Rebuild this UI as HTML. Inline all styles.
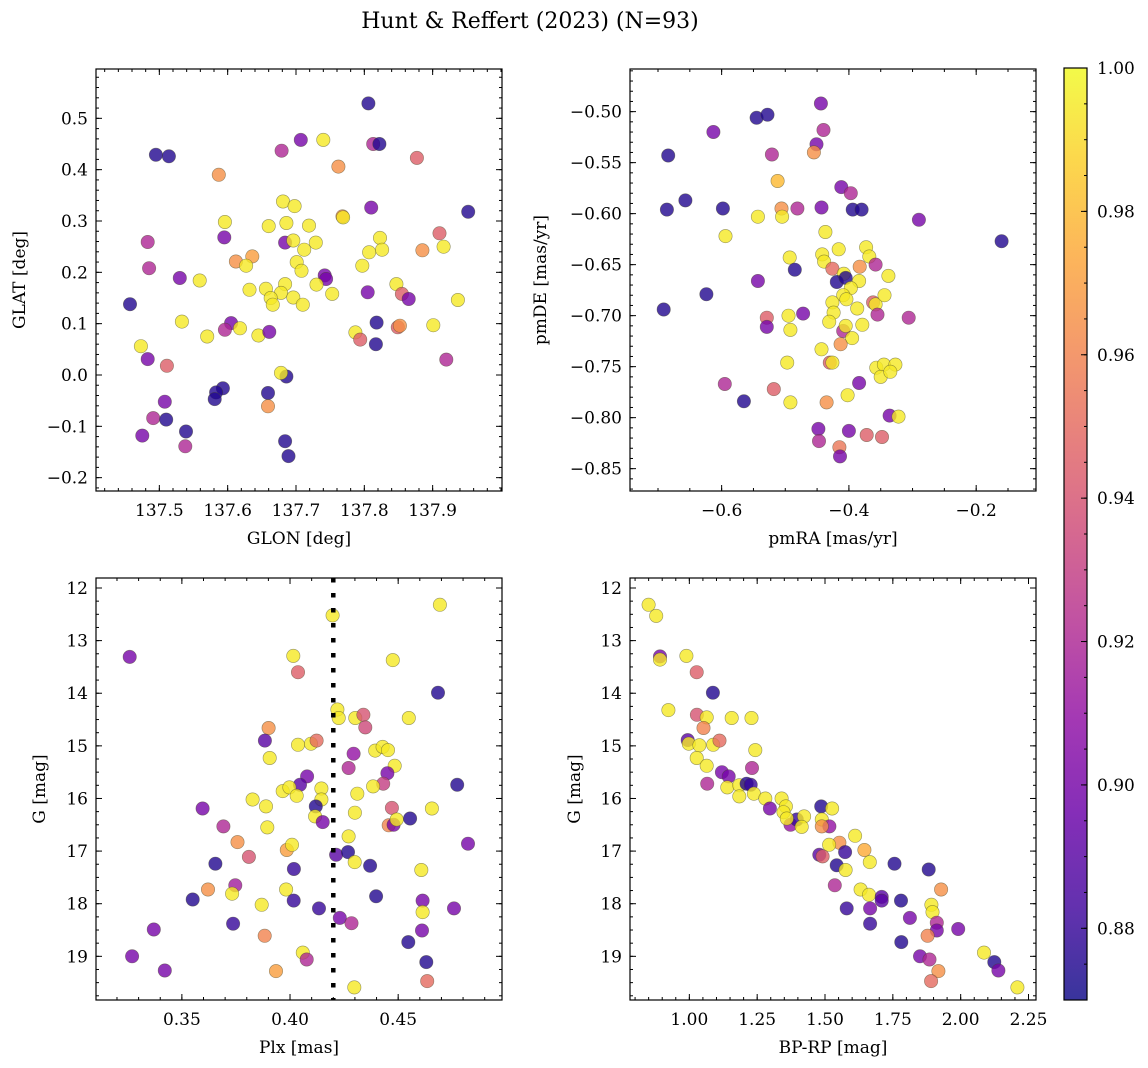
<!DOCTYPE html>
<html><head><meta charset="utf-8"><style>
html,body{margin:0;padding:0;background:#fff;}
svg{display:block;font-family:"DejaVu Serif","Liberation Serif",serif;}
</style></head><body>
<svg id="fig" width="1148" height="1068" viewBox="0 0 1148 1068" xmlns="http://www.w3.org/2000/svg">
<text x="530" y="28" font-size="22" text-anchor="middle">Hunt &amp; Reffert (2023) (N=93)</text>
</svg>
<script>
// ---- Panel 1: GLON / GLAT ----
const p1Glon=[137.806,137.495,137.514,137.707,137.740,137.679,137.813,137.822,137.587,137.762,137.877,137.681,137.698,137.768,137.769,137.810,137.952,137.596,137.660,137.686,137.719,137.595,137.483,137.684,137.696,137.729,137.712,137.823,137.826,137.807,137.910,137.916,137.885,137.612,137.636,137.627,137.701,137.708,137.797,137.485,137.530,137.559,137.742,137.744,137.684,137.730,137.632,137.656,137.678,137.663,137.666,137.696,137.710,137.753,137.805,137.847,137.855,137.865,137.937,137.457,137.533,137.605,137.596,137.618,137.570,137.645,137.661,137.818,137.787,137.794,137.849,137.852,137.901,137.817,137.473,137.483,137.511,137.920,137.686,137.678,137.593,137.583,137.581,137.659,137.659,137.508,137.491,137.510,137.475,137.539,137.538,137.684,137.689];
const p1Glat=[0.529,0.429,0.426,0.458,0.458,0.437,0.450,0.450,0.390,0.406,0.423,0.338,0.329,0.309,0.307,0.326,0.318,0.298,0.290,0.296,0.291,0.268,0.259,0.258,0.262,0.258,0.244,0.267,0.244,0.239,0.276,0.250,0.243,0.221,0.231,0.213,0.220,0.203,0.213,0.208,0.189,0.184,0.194,0.187,0.177,0.176,0.166,0.168,0.160,0.150,0.137,0.151,0.137,0.158,0.161,0.177,0.158,0.148,0.146,0.138,0.104,0.101,0.088,0.091,0.075,0.077,0.084,0.102,0.083,0.069,0.093,0.096,0.097,0.060,0.056,0.031,0.018,0.030,-0.003,0.004,-0.026,-0.034,-0.047,-0.035,-0.061,-0.052,-0.084,-0.087,-0.118,-0.110,-0.139,-0.129,-0.158];
const p1Prob=[0.875,0.875,0.875,0.90,0.995,0.92,0.92,0.875,0.965,0.965,0.945,0.995,0.995,0.965,0.995,0.90,0.875,0.995,0.995,0.995,0.995,0.90,0.92,0.90,0.995,0.995,0.995,0.995,0.995,0.995,0.945,0.995,0.965,0.965,0.97,0.995,0.995,0.995,0.995,0.92,0.90,0.995,0.90,0.90,0.995,0.995,0.995,0.995,0.995,0.995,0.995,0.995,0.995,0.995,0.90,0.995,0.945,0.90,0.995,0.875,0.995,0.90,0.92,0.995,0.995,0.995,0.90,0.875,0.995,0.945,0.945,0.965,0.995,0.875,0.995,0.90,0.945,0.92,0.875,0.995,0.875,0.875,0.875,0.875,0.965,0.90,0.92,0.875,0.90,0.875,0.92,0.875,0.875];
// ---- Panel 2: pmRA / pmDE ----
const p2Pmra=[-0.444,-0.545,-0.528,-0.613,-0.440,-0.451,-0.455,-0.684,-0.521,-0.512,-0.412,-0.397,-0.657,-0.686,-0.598,-0.506,-0.481,-0.443,-0.394,-0.380,-0.543,-0.505,-0.290,-0.594,-0.160,-0.437,-0.493,-0.442,-0.439,-0.416,-0.373,-0.368,-0.358,-0.485,-0.426,-0.383,-0.408,-0.419,-0.405,-0.384,-0.338,-0.397,-0.409,-0.404,-0.543,-0.624,-0.691,-0.426,-0.387,-0.362,-0.358,-0.344,-0.424,-0.355,-0.306,-0.472,-0.495,-0.529,-0.529,-0.492,-0.431,-0.409,-0.405,-0.379,-0.395,-0.413,-0.443,-0.430,-0.426,-0.497,-0.357,-0.345,-0.327,-0.350,-0.335,-0.384,-0.595,-0.518,-0.565,-0.492,-0.435,-0.402,-0.336,-0.322,-0.448,-0.400,-0.447,-0.372,-0.348,-0.415,-0.414];
const p2Pmde=[-0.492,-0.506,-0.503,-0.520,-0.518,-0.532,-0.540,-0.543,-0.542,-0.568,-0.574,-0.580,-0.587,-0.596,-0.595,-0.595,-0.595,-0.594,-0.596,-0.596,-0.603,-0.603,-0.606,-0.622,-0.627,-0.618,-0.643,-0.640,-0.647,-0.635,-0.633,-0.642,-0.650,-0.655,-0.654,-0.652,-0.659,-0.667,-0.663,-0.666,-0.661,-0.673,-0.680,-0.684,-0.666,-0.679,-0.694,-0.687,-0.693,-0.687,-0.689,-0.680,-0.697,-0.699,-0.702,-0.698,-0.700,-0.702,-0.711,-0.714,-0.706,-0.715,-0.710,-0.709,-0.722,-0.728,-0.733,-0.746,-0.746,-0.746,-0.751,-0.748,-0.748,-0.760,-0.755,-0.766,-0.767,-0.772,-0.784,-0.785,-0.785,-0.778,-0.798,-0.799,-0.811,-0.813,-0.823,-0.817,-0.819,-0.829,-0.838];
const p2Prob=[0.90,0.875,0.875,0.90,0.92,0.90,0.965,0.875,0.92,0.98,0.90,0.92,0.875,0.875,0.875,0.965,0.92,0.90,0.875,0.875,0.995,0.995,0.90,0.995,0.875,0.995,0.995,0.995,0.995,0.995,0.995,0.995,0.92,0.875,0.95,0.965,0.995,0.875,0.875,0.995,0.995,0.995,0.995,0.995,0.90,0.875,0.875,0.995,0.995,0.945,0.995,0.995,0.995,0.92,0.92,0.90,0.995,0.945,0.90,0.995,0.995,0.92,0.995,0.995,0.995,0.965,0.995,0.945,0.995,0.995,0.995,0.995,0.995,0.995,0.995,0.90,0.92,0.945,0.875,0.995,0.965,0.995,0.90,0.995,0.90,0.90,0.92,0.945,0.945,0.955,0.90];
// ---- Panel 3: Plx / G ----
const p3Plx=[0.4693,0.4197,0.3259,0.4015,0.4037,0.4475,0.4684,0.4219,0.4225,0.4302,0.4339,0.4348,0.4549,0.3901,0.3884,0.3906,0.4037,0.4097,0.4123,0.4294,0.4394,0.4428,0.4453,0.4271,0.4484,0.4450,0.4431,0.4384,0.4773,0.4079,0.4046,0.3966,0.3997,0.4031,0.4145,0.4145,0.4119,0.4116,0.4151,0.4311,0.4300,0.3827,0.3889,0.3596,0.3895,0.3692,0.4471,0.4456,0.4479,0.4493,0.4555,0.4656,0.4823,0.3757,0.3810,0.3985,0.4009,0.4271,0.4213,0.4268,0.4299,0.4370,0.3655,0.4018,0.4607,0.3747,0.3732,0.3621,0.3550,0.3869,0.3982,0.4017,0.4134,0.4398,0.4613,0.4613,0.4758,0.4230,0.4284,0.3737,0.3370,0.4610,0.3883,0.4547,0.3270,0.3421,0.4059,0.4077,0.4630,0.3935,0.4634,0.4297];
const p3G=[12.32,12.52,13.31,13.29,13.60,13.37,13.99,14.31,14.47,14.47,14.41,14.65,14.47,14.66,14.90,15.23,14.98,14.96,14.90,15.15,15.09,15.02,15.08,15.42,15.38,15.52,15.72,15.77,15.74,15.58,15.74,15.86,15.79,15.95,15.81,16.02,16.15,16.34,16.45,15.91,16.27,16.02,16.15,16.19,16.55,16.53,16.18,16.51,16.50,16.40,16.38,16.19,16.86,16.83,17.11,16.98,16.88,16.72,17.07,17.02,17.21,17.28,17.24,17.34,17.36,17.65,17.81,17.73,17.92,18.02,17.73,17.94,18.09,17.86,17.94,18.16,18.09,18.27,18.37,18.38,18.49,18.51,18.61,18.73,19.00,19.27,18.93,19.06,19.11,19.28,19.47,19.59];
const p3Prob=[0.995,0.995,0.90,0.995,0.945,0.995,0.875,0.995,0.995,0.995,0.94,0.935,0.995,0.965,0.89,0.995,0.995,0.995,0.95,0.91,0.995,0.995,0.995,0.92,0.995,0.90,0.93,0.995,0.875,0.90,0.89,0.995,0.995,0.995,0.995,0.995,0.875,0.995,0.90,0.995,0.995,0.995,0.995,0.90,0.995,0.92,0.94,0.96,0.90,0.995,0.875,0.995,0.90,0.965,0.94,0.97,0.995,0.995,0.89,0.875,0.995,0.875,0.875,0.88,0.995,0.915,0.995,0.965,0.875,0.995,0.995,0.88,0.88,0.875,0.90,0.995,0.90,0.90,0.92,0.88,0.90,0.90,0.96,0.875,0.90,0.90,0.995,0.92,0.875,0.97,0.95,0.995];
// ---- Panel 4: BP-RP / G ----
const p4Bprp=[0.850,0.878,0.892,0.892,0.989,1.027,1.087,0.923,1.028,1.064,1.052,1.156,1.229,0.994,0.998,1.037,1.088,1.111,1.027,1.064,1.243,1.066,1.120,1.145,1.231,1.140,1.184,1.184,1.211,1.226,1.238,1.280,1.297,1.340,1.356,1.347,1.373,1.396,1.359,1.423,1.414,1.486,1.526,1.488,1.516,1.488,1.611,1.553,1.515,1.574,1.479,1.491,1.543,1.576,1.645,1.665,1.756,1.882,1.536,1.631,1.662,1.709,1.709,1.780,1.928,1.580,1.666,1.892,1.896,1.813,1.666,1.912,1.912,1.991,1.878,1.781,1.850,1.885,2.086,2.124,2.139,1.918,1.891,2.209];
const p4G=[12.32,12.53,13.30,13.36,13.29,13.60,13.99,14.32,14.41,14.46,14.66,14.47,14.47,14.89,14.96,14.99,14.98,14.90,15.23,15.38,15.08,15.72,15.50,15.58,15.42,15.79,15.75,15.96,15.72,15.74,15.91,16.00,16.19,16.00,16.15,16.26,16.50,16.40,16.38,16.34,16.54,16.15,16.19,16.40,16.53,16.53,16.71,16.84,16.88,17.02,17.07,17.10,17.27,17.36,16.98,17.21,17.24,17.35,17.65,17.73,17.83,17.87,17.94,17.94,17.73,18.09,18.09,18.02,18.16,18.27,18.38,18.36,18.51,18.48,18.61,18.73,19.00,19.06,18.93,19.11,19.27,19.28,19.47,19.59];
const p4Prob=[0.995,0.995,0.90,0.995,0.995,0.945,0.875,0.995,0.94,0.995,0.96,0.995,0.995,0.89,0.995,0.995,0.995,0.95,0.995,0.995,0.995,0.92,0.90,0.90,0.92,0.995,0.995,0.995,0.875,0.88,0.995,0.995,0.90,0.995,0.995,0.995,0.91,0.88,0.995,0.995,0.995,0.875,0.995,0.995,0.91,0.965,0.995,0.965,0.995,0.88,0.89,0.945,0.875,0.995,0.975,0.995,0.875,0.875,0.92,0.995,0.995,0.89,0.89,0.875,0.965,0.88,0.90,0.995,0.995,0.90,0.88,0.92,0.90,0.90,0.96,0.875,0.90,0.92,0.995,0.875,0.90,0.965,0.95,0.995];
// ---- Tick labels ----
const p1XTicks=[137.5,137.6,137.7,137.8,137.9];
const p1YTicks=[0.5,0.4,0.3,0.2,0.1,0.0,-0.1,-0.2];
const p2XTicks=[-0.6,-0.4,-0.2];
const p2YTicks=[-0.50,-0.55,-0.60,-0.65,-0.70,-0.75,-0.80,-0.85];
const p3XTicks=[0.35,0.40,0.45];
const gTicks=[12,13,14,15,16,17,18,19];
const p4XTicks=[1.00,1.25,1.50,1.75,2.00,2.25];
const cbTicks=[0.88,0.90,0.92,0.94,0.96,0.98,1.00];
const plxCut=[0.42];

const NS='http://www.w3.org/2000/svg';
const svg=document.getElementById('fig');
function mk(tag,attrs,parent){const e=document.createElementNS(NS,tag);for(const k in attrs)e.setAttribute(k,attrs[k]);(parent||svg).appendChild(e);return e;}
const CMAP=[[13,8,135],[65,4,157],[106,0,168],[143,13,164],[177,42,144],[204,71,120],[225,100,98],[242,132,75],[252,166,54],[252,206,37],[240,249,33]];
const CMIN=0.870,CMAX=1.0;
function plasma(v){let t=(v-CMIN)/(CMAX-CMIN);t=Math.max(0,Math.min(1,t))*10;const i=Math.min(9,Math.floor(t)),f=t-i;const a=CMAP[i],b=CMAP[i+1];return 'rgb('+a.map((c,k)=>Math.round(c+(b[k]-c)*f)).join(',')+')';}
function fmt(v,d){const s=Math.abs(v).toFixed(d);return (v<0?'\u2212':'')+s;}

function panel(cfg){
  const {x,y,w,h,xd,yd,name}=cfg;
  const sx=v=>x+(v-xd[0])/(xd[1]-xd[0])*w;
  const sy=v=>y+(v-yd[0])/(yd[1]-yd[0])*h;
  const g=mk('g',{});
  
  
  const pts=mk('g',{},g);
  
  
  const clip=mk('clipPath',{id:name+'clip'},g);mk('rect',{x:x,y:y,width:w,height:h},clip);
  pts.setAttribute('clip-path','url(#'+name+'clip)');
  for(let i=0;i<cfg.xs.length;i++){
    const c=mk('circle',{cx:sx(cfg.xs[i]).toFixed(1),cy:sy(cfg.ys[i]).toFixed(1),r:6.7,fill:plasma(cfg.cs[i]),'fill-opacity':0.8,stroke:'rgba(70,70,40,0.55)','stroke-width':0.6},pts);
    
    
  }
  if(cfg.extra)cfg.extra(sx,sy,g);
  const tk=mk('g',{stroke:'#000','stroke-width':1},g);
  
  
  function minorLoop(d,step,fn){const s=Math.ceil(Math.min(d[0],d[1])/step-1e-6),e=Math.floor(Math.max(d[0],d[1])/step+1e-6);for(let k=s;k<=e;k++)fn(k*step);}
  minorLoop(xd,cfg.xMinor,v=>{const px=sx(v);mk('line',{x1:px,y1:y+h,x2:px,y2:y+h-3},tk);mk('line',{x1:px,y1:y,x2:px,y2:y+3},tk);});
  minorLoop(yd,cfg.yMinor,v=>{const py=sy(v);mk('line',{x1:x,y1:py,x2:x+3,y2:py},tk);mk('line',{x1:x+w,y1:py,x2:x+w-3,y2:py},tk);});
  cfg.xt.forEach(v=>{const px=sx(v);mk('line',{x1:px,y1:y+h,x2:px,y2:y+h-6},tk);mk('line',{x1:px,y1:y,x2:px,y2:y+6},tk);
    const t=mk('text',{x:px,y:y+h+25,'font-size':17,'text-anchor':'middle'},g);t.textContent=fmt(v,cfg.xd_);
    });
  cfg.yt.forEach(v=>{const py=sy(v);mk('line',{x1:x,y1:py,x2:x+6,y2:py},tk);mk('line',{x1:x+w,y1:py,x2:x+w-6,y2:py},tk);
    const t=mk('text',{x:x-8,y:py+6,'font-size':17,'text-anchor':'end'},g);t.textContent=fmt(v,cfg.yd_);
    });
  const fr=mk('rect',{x:x,y:y,width:w,height:h,fill:'none',stroke:'#000','stroke-width':1.2},g);
  
  const xl=mk('text',{x:x+w/2,y:y+h+53,'font-size':17,'text-anchor':'middle'},g);xl.textContent=cfg.xlabel;
  
  const ly=y+h/2;const yl=mk('text',{x:cfg.ylx,y:ly,'font-size':17,'text-anchor':'middle',transform:'rotate(-90 '+cfg.ylx+' '+ly+')'},g);yl.textContent=cfg.ylabel;
  
}
panel({name:'glon-glat',x:96,y:69,w:406,h:422,xd:[137.4073,138.0015],yd:[0.5961,-0.2260],xs:p1Glon,ys:p1Glat,cs:p1Prob,xt:p1XTicks,yt:p1YTicks,xd_:1,yd_:1,xMinor:0.02,yMinor:0.02,xlabel:'GLON [deg]',ylabel:'GLAT [deg]',ylx:25});
panel({name:'pm',x:630,y:69,w:406,h:422,xd:[-0.744,-0.106],yd:[-0.4582,-0.8719],xs:p2Pmra,ys:p2Pmde,cs:p2Prob,xt:p2XTicks,yt:p2YTicks,xd_:1,yd_:2,xMinor:0.05,yMinor:0.01,xlabel:'pmRA [mas/yr]',ylabel:'pmDE [mas/yr]',ylx:546});
panel({name:'plx-g',x:96,y:578,w:406,h:422,xd:[0.3103,0.4980],yd:[11.81,19.83],xs:p3Plx,ys:p3G,cs:p3Prob,xt:p3XTicks,yt:gTicks,xd_:2,yd_:0,xMinor:0.01,yMinor:0.25,xlabel:'Plx [mas]',ylabel:'G [mag]',ylx:45,
  extra:(sx,sy,g)=>{plxCut.forEach(v=>{const l=mk('line',{x1:sx(v),y1:578,x2:sx(v),y2:1000,stroke:'#000','stroke-width':4.5,'stroke-dasharray':'4.5 10.5'},g);
    });}});
panel({name:'cmd',x:630,y:578,w:406,h:422,xd:[0.7813,2.2776],yd:[11.81,19.83],xs:p4Bprp,ys:p4G,cs:p4Prob,xt:p4XTicks,yt:gTicks,xd_:2,yd_:0,xMinor:0.05,yMinor:0.25,xlabel:'BP-RP [mag]',ylabel:'G [mag]',ylx:580});

(function(){
  const x=1064,y=68,w=23,h=932;
  const g=mk('g',{});
  
  
  const defs=mk('defs',{},g);
  const lg=mk('linearGradient',{id:'cbgrad',x1:0,y1:1,x2:0,y2:0},defs);
  for(let i=0;i<=20;i++){const v=CMIN+(CMAX-CMIN)*i/20;mk('stop',{offset:(i/20),'stop-color':plasma(v),'stop-opacity':0.82},lg);}
  mk('rect',{x:x,y:y,width:w,height:h,fill:'url(#cbgrad)'},g);
  mk('rect',{x:x,y:y,width:w,height:h,fill:'none',stroke:'#000','stroke-width':1.2},g);
  const sy=v=>y+(CMAX-v)/(CMAX-CMIN)*h;
  for(let k=Math.ceil(CMIN/0.005);k<=Math.floor(CMAX/0.005+1e-6);k++){const py=sy(k*0.005);mk('line',{x1:x+w,y1:py,x2:x+w-3,y2:py,stroke:'#000'},g);}
  cbTicks.forEach(v=>{const py=sy(v);mk('line',{x1:x+w,y1:py,x2:x+w-6,y2:py,stroke:'#000'},g);
    const t=mk('text',{x:x+w+10,y:py+6,'font-size':17},g);t.textContent=v.toFixed(2);
    });
})();
</script>
</body></html>
